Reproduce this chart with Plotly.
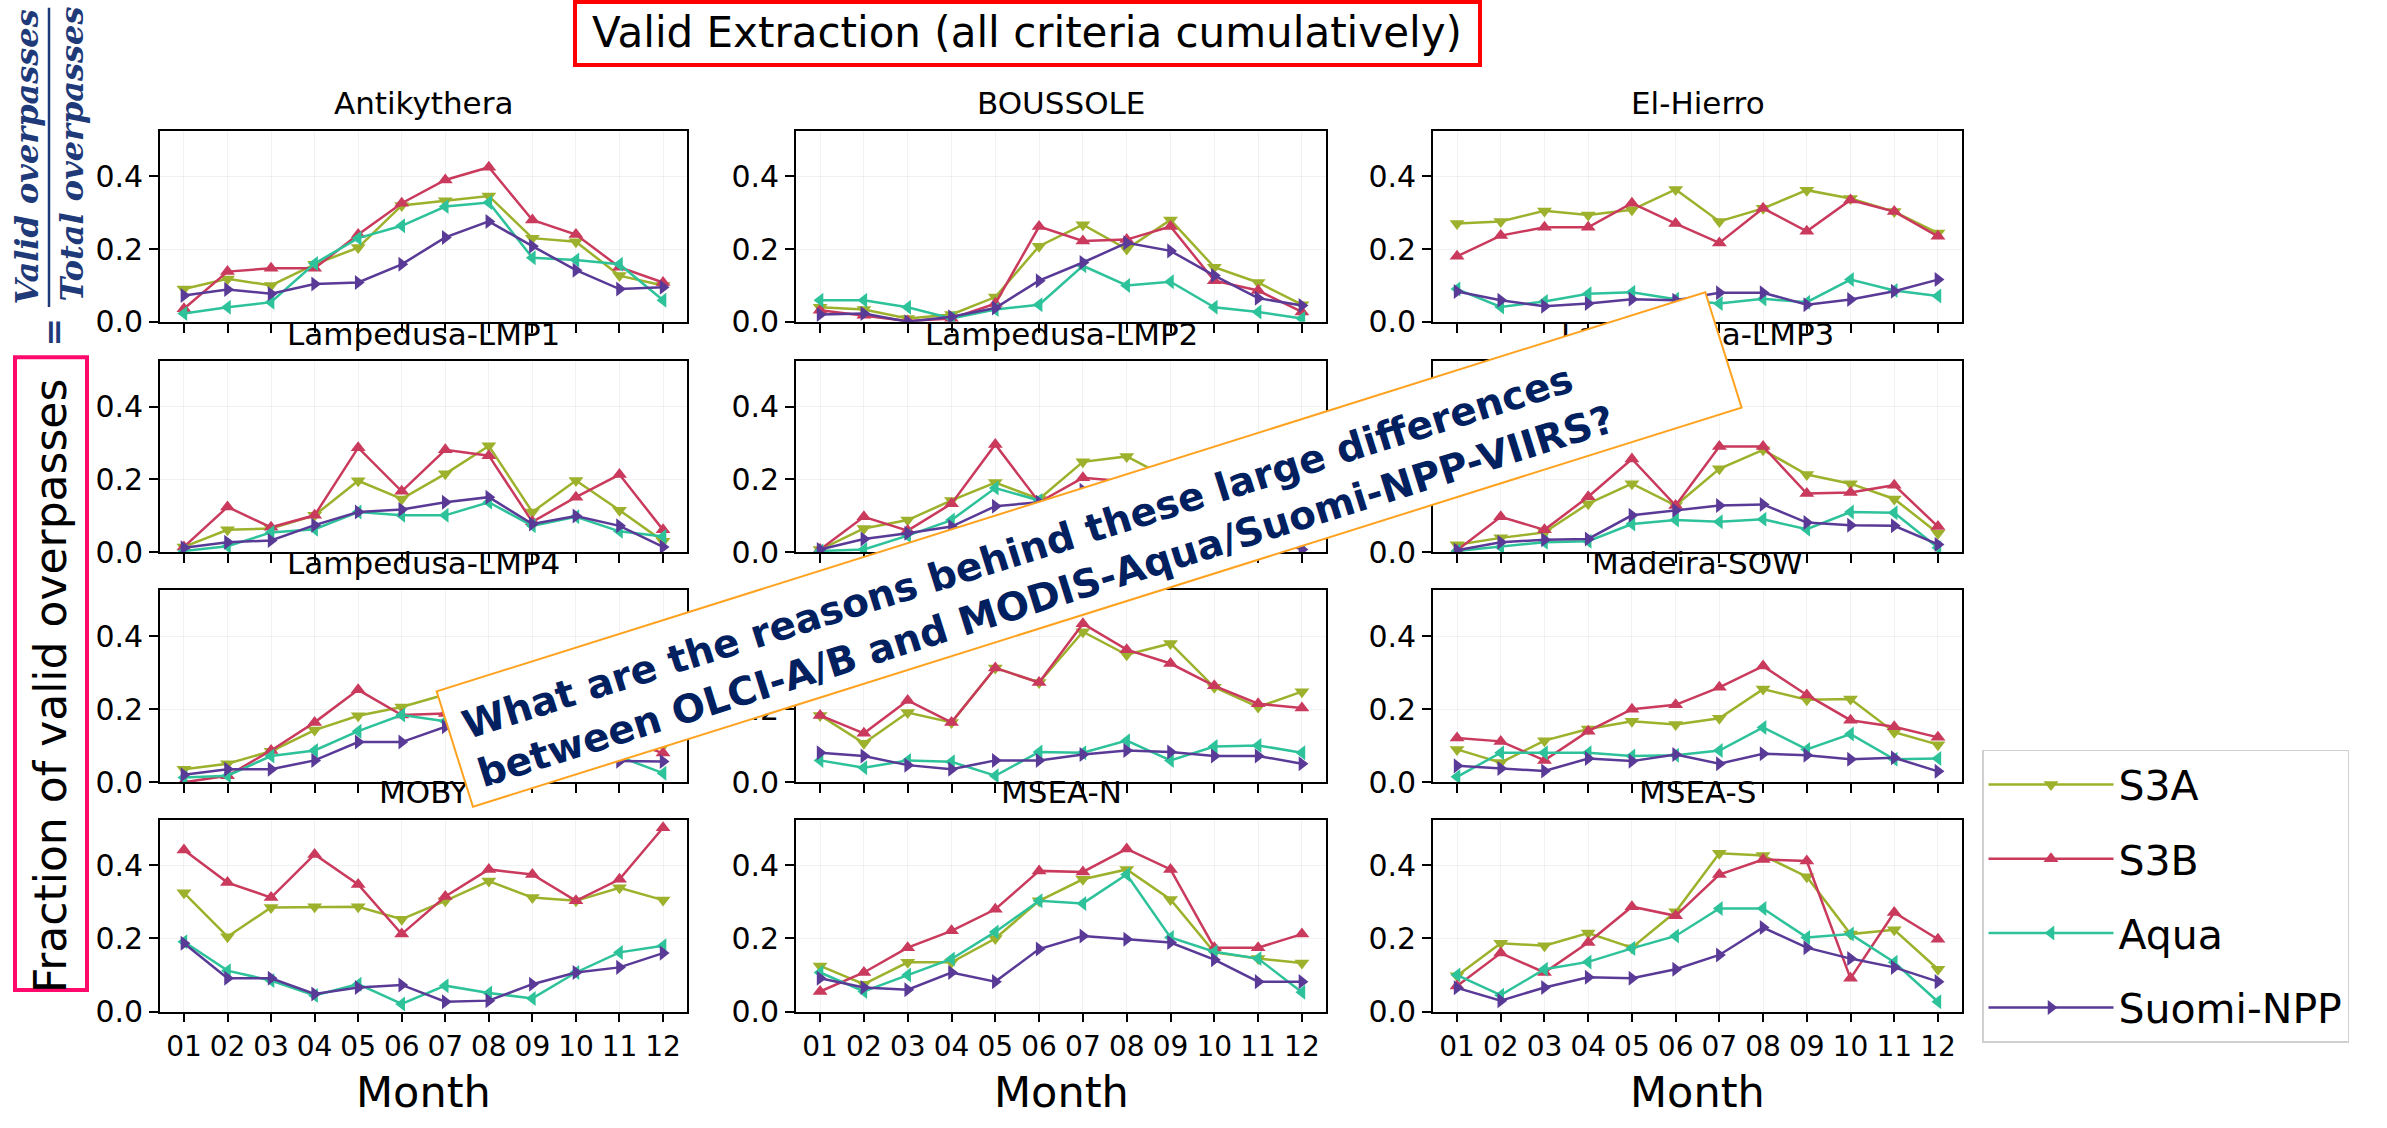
import math
import plotly.graph_objects as go

W, H = 2387, 1128

# ---------------- data ----------------
months = [1, 2, 3, 4, 5, 6, 7, 8, 9, 10, 11, 12]
month_labels = ["01", "02", "03", "04", "05", "06", "07", "08", "09", "10", "11", "12"]
sites = ["Antikythera", "BOUSSOLE", "El-Hierro",
         "Lampedusa-LMP1", "Lampedusa-LMP2", "Lampedusa-LMP3",
         "Lampedusa-LMP4", "Lampedusa-LMP5", "Madeira-SOW",
         "MOBY", "MSEA-N", "MSEA-S"]

s3a = [
    [0.090, 0.118, 0.100, 0.158, 0.204, 0.320, 0.333, 0.346, 0.230, 0.220, 0.127, 0.100],
    [0.040, 0.034, 0.009, 0.020, 0.068, 0.208, 0.267, 0.200, 0.280, 0.150, 0.108, 0.047],
    [0.270, 0.276, 0.305, 0.294, 0.308, 0.364, 0.276, 0.312, 0.362, 0.339, 0.303, 0.244],
    [0.014, 0.061, 0.065, 0.101, 0.196, 0.146, 0.215, 0.292, 0.110, 0.197, 0.115, 0.030],
    [0.007, 0.065, 0.088, 0.142, 0.191, 0.146, 0.248, 0.263, 0.200, 0.170, 0.120, 0.050],
    [0.020, 0.039, 0.054, 0.133, 0.188, 0.128, 0.229, 0.281, 0.213, 0.188, 0.146, 0.052],
    [0.036, 0.051, 0.085, 0.143, 0.182, 0.206, 0.240, 0.260, 0.220, 0.180, 0.140, 0.100],
    [0.183, 0.107, 0.191, 0.164, 0.313, 0.273, 0.412, 0.349, 0.380, 0.260, 0.206, 0.248],
    [0.090, 0.054, 0.114, 0.146, 0.167, 0.158, 0.175, 0.255, 0.226, 0.228, 0.137, 0.103],
    [0.325, 0.205, 0.285, 0.287, 0.287, 0.253, 0.303, 0.357, 0.312, 0.303, 0.339, 0.305],
    [0.125, 0.075, 0.135, 0.135, 0.200, 0.303, 0.362, 0.389, 0.307, 0.162, 0.145, 0.133],
    [0.098, 0.187, 0.180, 0.215, 0.175, 0.273, 0.433, 0.427, 0.369, 0.212, 0.224, 0.116],
]
s3b = [
    [0.036, 0.138, 0.147, 0.147, 0.240, 0.326, 0.390, 0.425, 0.280, 0.240, 0.150, 0.108],
    [0.032, 0.018, 0.002, 0.009, 0.050, 0.262, 0.222, 0.226, 0.262, 0.113, 0.086, 0.027],
    [0.180, 0.237, 0.260, 0.260, 0.326, 0.270, 0.217, 0.312, 0.249, 0.335, 0.303, 0.235],
    [0.014, 0.124, 0.068, 0.101, 0.287, 0.167, 0.281, 0.265, 0.083, 0.151, 0.213, 0.061],
    [0.007, 0.097, 0.059, 0.133, 0.296, 0.137, 0.204, 0.194, 0.150, 0.130, 0.100, 0.030],
    [0.005, 0.097, 0.061, 0.152, 0.256, 0.128, 0.290, 0.290, 0.161, 0.164, 0.184, 0.070],
    [0.000, 0.018, 0.087, 0.164, 0.253, 0.184, 0.188, 0.220, 0.200, 0.170, 0.120, 0.080],
    [0.183, 0.134, 0.224, 0.164, 0.313, 0.273, 0.434, 0.363, 0.325, 0.264, 0.215, 0.203],
    [0.121, 0.112, 0.060, 0.140, 0.200, 0.212, 0.260, 0.318, 0.239, 0.170, 0.152, 0.123],
    [0.442, 0.353, 0.312, 0.430, 0.348, 0.212, 0.315, 0.389, 0.375, 0.303, 0.362, 0.503],
    [0.055, 0.107, 0.175, 0.221, 0.280, 0.385, 0.382, 0.445, 0.389, 0.175, 0.175, 0.212],
    [0.070, 0.160, 0.107, 0.189, 0.287, 0.262, 0.375, 0.416, 0.412, 0.091, 0.271, 0.198],
]
aqua = [
    [0.023, 0.040, 0.054, 0.160, 0.230, 0.264, 0.317, 0.328, 0.176, 0.170, 0.158, 0.059],
    [0.059, 0.059, 0.040, 0.009, 0.034, 0.047, 0.154, 0.100, 0.110, 0.040, 0.027, 0.009],
    [0.090, 0.041, 0.056, 0.077, 0.081, 0.062, 0.050, 0.063, 0.054, 0.116, 0.086, 0.071],
    [0.003, 0.016, 0.054, 0.063, 0.110, 0.101, 0.101, 0.137, 0.072, 0.097, 0.057, 0.043],
    [0.003, 0.007, 0.045, 0.088, 0.176, 0.142, 0.120, 0.100, 0.080, 0.060, 0.040, 0.020],
    [0.003, 0.014, 0.027, 0.030, 0.077, 0.088, 0.083, 0.090, 0.063, 0.110, 0.108, 0.012],
    [0.013, 0.018, 0.072, 0.087, 0.140, 0.184, 0.167, 0.150, 0.120, 0.100, 0.070, 0.025],
    [0.060, 0.040, 0.060, 0.056, 0.018, 0.083, 0.081, 0.114, 0.060, 0.098, 0.101, 0.081],
    [0.015, 0.081, 0.081, 0.081, 0.072, 0.074, 0.087, 0.150, 0.090, 0.132, 0.063, 0.065],
    [0.191, 0.112, 0.085, 0.044, 0.075, 0.021, 0.071, 0.051, 0.036, 0.107, 0.162, 0.180],
    [0.107, 0.055, 0.100, 0.144, 0.218, 0.303, 0.296, 0.375, 0.203, 0.164, 0.145, 0.053],
    [0.100, 0.045, 0.116, 0.136, 0.173, 0.207, 0.282, 0.282, 0.203, 0.212, 0.135, 0.027],
]
suomi = [
    [0.072, 0.089, 0.077, 0.104, 0.108, 0.158, 0.232, 0.276, 0.208, 0.142, 0.090, 0.095],
    [0.020, 0.023, 0.000, 0.014, 0.038, 0.113, 0.163, 0.217, 0.195, 0.127, 0.065, 0.045],
    [0.083, 0.059, 0.043, 0.050, 0.062, 0.059, 0.080, 0.080, 0.047, 0.061, 0.084, 0.116],
    [0.012, 0.027, 0.032, 0.074, 0.110, 0.117, 0.137, 0.151, 0.077, 0.099, 0.072, 0.014],
    [0.007, 0.036, 0.052, 0.070, 0.126, 0.137, 0.170, 0.160, 0.120, 0.090, 0.050, 0.007],
    [0.005, 0.027, 0.034, 0.036, 0.101, 0.115, 0.128, 0.131, 0.081, 0.074, 0.072, 0.021],
    [0.021, 0.036, 0.036, 0.060, 0.110, 0.110, 0.152, 0.130, 0.100, 0.080, 0.058, 0.057],
    [0.081, 0.072, 0.047, 0.036, 0.060, 0.060, 0.076, 0.087, 0.083, 0.072, 0.072, 0.051],
    [0.045, 0.038, 0.031, 0.065, 0.058, 0.076, 0.051, 0.078, 0.074, 0.063, 0.067, 0.030],
    [0.187, 0.091, 0.091, 0.048, 0.066, 0.073, 0.027, 0.030, 0.075, 0.107, 0.121, 0.160],
    [0.091, 0.066, 0.060, 0.107, 0.082, 0.171, 0.207, 0.198, 0.189, 0.142, 0.082, 0.082],
    [0.065, 0.030, 0.066, 0.094, 0.091, 0.116, 0.155, 0.230, 0.175, 0.145, 0.121, 0.082],
]
series_names = ["S3A", "S3B", "Aqua", "Suomi-NPP"]
series_data = [s3a, s3b, aqua, suomi]
series_colors = ["#9DB12C", "#C93A5D", "#2EC29B", "#5A3A97"]
series_symbols = ["triangle-down", "triangle-up", "triangle-left", "triangle-right"]

y_ticks = [0.0, 0.2, 0.4]
y_ticklabels = ["0.0", "0.2", "0.4"]

# ---------------- layout geometry (pixels) ----------------
cols_px = [(160, 687), (796, 1326), (1433, 1962)]
rows_px = [(133, 327), (367, 561), (600, 795), (833, 1028)]


def px(x):
    return x / W


def py(y):
    return 1 - y / H


FONT = "DejaVu Sans"
NAVY = "#1F3A78"

fig = go.Figure()
layout = dict(
    width=W, height=H, autosize=False,
    margin=dict(l=0, r=0, t=0, b=0),
    paper_bgcolor="white", plot_bgcolor="white",
    font=dict(family=FONT, color="black", size=29),
    showlegend=True,
)

annotations = []
for i, site in enumerate(sites):
    r, c = divmod(i, 3)
    n = i + 1
    xa = "xaxis" if n == 1 else f"xaxis{n}"
    ya = "yaxis" if n == 1 else f"yaxis{n}"
    xr = "x" if n == 1 else f"x{n}"
    yr = "y" if n == 1 else f"y{n}"
    l, rr = cols_px[c]
    t, b = rows_px[r]
    layout[xa] = dict(
        domain=[px(l), px(rr)], anchor=yr, range=[0.45, 12.55],
        tickmode="array", tickvals=months, ticktext=month_labels,
        showticklabels=(r == 3), ticks="outside", ticklen=9, tickwidth=1.5,
        tickcolor="black", showline=True, mirror=True, linecolor="black",
        linewidth=1.6, showgrid=True, gridcolor="rgba(0,0,0,0.05)",
        zeroline=False, tickfont=dict(size=28, family=FONT),
    )
    layout[ya] = dict(
        domain=[py(b), py(t)], anchor=xr, range=[0, 0.525],
        tickmode="array", tickvals=y_ticks, ticktext=y_ticklabels,
        ticks="outside", ticklen=9, tickwidth=1.5, tickcolor="black",
        showline=True, mirror=True, linecolor="black", linewidth=1.6,
        showgrid=True, gridcolor="rgba(0,0,0,0.05)", zeroline=False,
        tickfont=dict(size=30, family=FONT),
    )
    for k, name in enumerate(series_names):
        fig.add_trace(go.Scatter(
            x=months, y=series_data[k][i], mode="lines+markers", name=name,
            xaxis=xr, yaxis=yr, legendgroup=name, showlegend=(i == 0),
            line=dict(color=series_colors[k], width=2.5),
            marker=dict(symbol=series_symbols[k], size=13, color=series_colors[k]),
        ))
    # subplot title
    annotations.append(dict(
        x=px((l + rr) / 2), y=py(t - 28), xref="paper", yref="paper",
        text=site, showarrow=False, xanchor="center", yanchor="middle",
        font=dict(size=31, family=FONT, color="black"),
    ))

# Month labels
for (l, rr) in cols_px:
    annotations.append(dict(
        x=px((l + rr) / 2), y=py(1110), xref="paper", yref="paper",
        text="Month", showarrow=False, xanchor="center", yanchor="middle",
        font=dict(size=43, family=FONT, color="black"),
    ))

# Top title
annotations.append(dict(
    x=px(1027), y=py(33), xref="paper", yref="paper",
    text="Valid Extraction (all criteria cumulatively)", showarrow=False,
    xanchor="center", yanchor="middle", font=dict(size=42, family=FONT, color="black"),
))

# Y label
annotations.append(dict(
    x=px(51), y=py(697), xref="paper", yref="paper",
    text="Fraction of valid overpasses", showarrow=False, textangle=-90,
    xanchor="center", yanchor="middle", font=dict(size=44, family=FONT, color="black"),
))

# Fraction (Valid / Total) =
frac_font = dict(size=32, family="DejaVu Serif", color=NAVY)
annotations.append(dict(
    x=px(27), y=py(160), xref="paper", yref="paper",
    text="<b><i>Valid overpasses</i></b>", showarrow=False, textangle=-90,
    xanchor="center", yanchor="middle", font=frac_font,
))
annotations.append(dict(
    x=px(72), y=py(157), xref="paper", yref="paper",
    text="<b><i>Total overpasses</i></b>", showarrow=False, textangle=-90,
    xanchor="center", yanchor="middle", font=frac_font,
))
annotations.append(dict(
    x=px(53), y=py(338), xref="paper", yref="paper",
    text="<b>=</b>", showarrow=False, textangle=-90,
    xanchor="center", yanchor="middle", font=dict(size=34, family="DejaVu Serif", color=NAVY),
))

# Rotated question box
ang_deg = 17.47
ang = math.radians(ang_deg)
ux, uy = math.cos(ang), -math.sin(ang)
nx, ny = math.sin(ang), math.cos(ang)
cx, cy = 1089, 558
box_w, box_h = 1332, 123
annotations.append(dict(
    x=px(cx), y=py(cy), xref="paper", yref="paper", text=" ", showarrow=False,
    textangle=-ang_deg, xanchor="center", yanchor="middle",
    width=box_w - 4, height=box_h - 4, borderpad=0, borderwidth=2,
    bordercolor="#FFA21F", bgcolor="white",
))
tlx = cx - box_w / 2 * ux - box_h / 2 * nx
tly = cy - box_w / 2 * uy - box_h / 2 * ny
along, perp = 611, 69
tx = tlx + along * ux + perp * nx
ty = tly + along * uy + perp * ny
annotations.append(dict(
    x=px(tx), y=py(ty), xref="paper", yref="paper",
    text="<b>What are the reasons behind these large differences</b><br>"
         "<b>between OLCI-A/B and MODIS-Aqua/Suomi-NPP-VIIRS?</b>",
    showarrow=False, textangle=-ang_deg, xanchor="center", yanchor="middle",
    align="left", font=dict(size=39, family=FONT, color="#002060"),
))

layout["annotations"] = annotations

layout["shapes"] = [
    dict(type="rect", xref="paper", yref="paper", x0=px(575), x1=px(1480),
         y0=py(66), y1=py(2), line=dict(color="#FF0000", width=4)),
    dict(type="rect", xref="paper", yref="paper", x0=px(15), x1=px(87),
         y0=py(1006), y1=py(363), line=dict(color="#FF0A6C", width=4)),
    dict(type="line", xref="paper", yref="paper", x0=px(49), x1=px(49),
         y0=py(312), y1=py(8), line=dict(color=NAVY, width=2.5)),
]

layout["legend"] = dict(
    x=px(1982), y=py(762), xanchor="left", yanchor="top",
    bgcolor="white", bordercolor="#D0D0D0", borderwidth=1.5,
    font=dict(size=41, family=FONT, color="black"),
    tracegroupgap=18, itemwidth=125,
)

fig.update_layout(**layout)
fig.write_html("out.html")
